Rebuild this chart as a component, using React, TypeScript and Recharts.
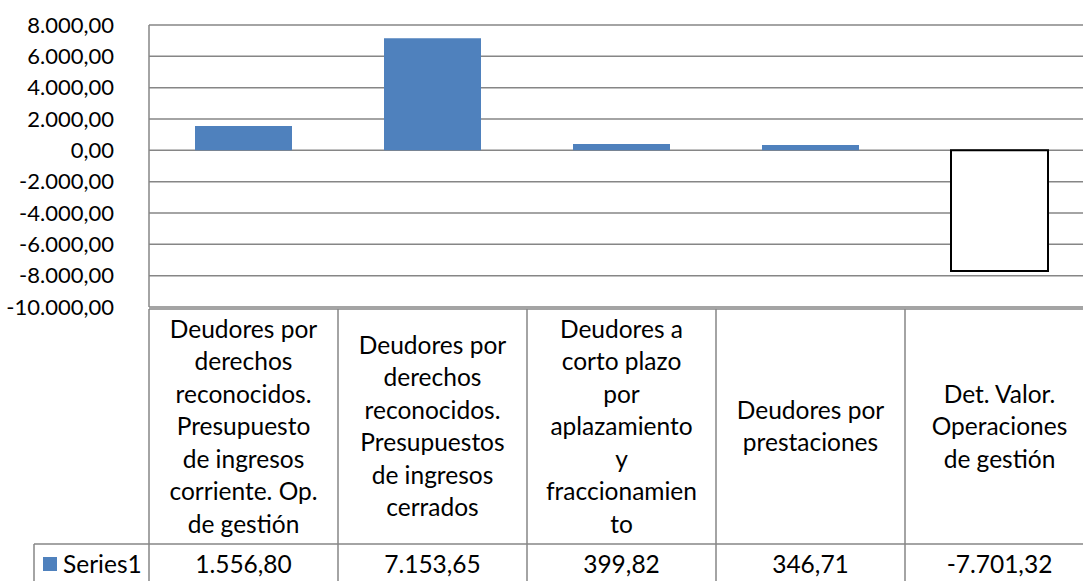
import { BarChart, Bar, XAxis, YAxis, CartesianGrid, Cell } from 'recharts'

const categoryLines = [
  ['Deudores por', 'derechos', 'reconocidos.', 'Presupuesto', 'de ingresos', 'corriente. Op.', 'de gestión'],
  ['Deudores por', 'derechos', 'reconocidos.', 'Presupuestos', 'de ingresos', 'cerrados'],
  ['Deudores a', 'corto plazo', 'por', 'aplazamiento', 'y', 'fraccionamien', 'to'],
  ['Deudores por', 'prestaciones'],
  ['Det. Valor.', 'Operaciones', 'de gestión'],
]
const seriesValues = [1556.8, 7153.65, 399.82, 346.71, -7701.32]
const yTicks = [-10000, -8000, -6000, -4000, -2000, 0, 2000, 4000, 6000, 8000]
const seriesName = 'Series1'

const FONT = 'Lato, "Open Sans", sans-serif'
const FS = 24.5
const TICK_FS = 22
const BLUE = '#4f81bd'
const GRID = '#868686'

const CHART_W = 1100
const CHART_H = 581
const AXIS_W = 149
const TOP = 25
const PLOT_H = 282
const PLOT_W = 945
const BAND = PLOT_W / seriesValues.length

const data = categoryLines.map((lines, i) => ({
  name: lines.join(' '),
  value: seriesValues[i],
}))

function fmt(v: number) {
  const neg = v < 0
  const [int, dec] = Math.abs(v).toFixed(2).split('.')
  const grouped = int.replace(/\B(?=(\d{3})+(?!\d))/g, '.')
  return `${neg ? '-' : ''}${grouped},${dec}`
}

function YTick({ x, y, payload }: any) {
  return (
    <text x={x - 27} y={y} dy="0.35em" textAnchor="end" fontFamily={FONT} fontSize={TICK_FS} fill="#000">
      {fmt(payload.value)}
    </text>
  )
}

function TableTick({ x, y, index }: any) {
  const left = x - BAND / 2
  const right = x + BAND / 2
  const lines = categoryLines[index]
  const tableTop = y + 2
  const rowSplit = y + 237
  const bottom = CHART_H + 5
  const catMid = (tableTop + rowSplit) / 2
  const lh = 32.5
  const start = catMid - ((lines.length - 1) / 2) * lh
  return (
    <g>
      <line x1={left} x2={right} y1={tableTop} y2={tableTop} stroke={GRID} strokeWidth={1.5} />
      <line x1={left} x2={right} y1={rowSplit} y2={rowSplit} stroke={GRID} strokeWidth={1.5} />
      <line x1={right} x2={right} y1={tableTop} y2={bottom} stroke={GRID} strokeWidth={1.5} />
      {index === 0 && (
        <g>
          <line x1={left} x2={left} y1={tableTop} y2={bottom} stroke={GRID} strokeWidth={1.5} />
          <line x1={34} x2={left} y1={rowSplit} y2={rowSplit} stroke={GRID} strokeWidth={1.5} />
          <line x1={34} x2={34} y1={rowSplit} y2={bottom} stroke={GRID} strokeWidth={1.5} />
          <rect x={43} y={rowSplit + 13} width={14} height={14} fill={BLUE} />
          <text x={63} y={rowSplit + 20} dy="0.35em" fontFamily={FONT} fontSize={FS} fill="#000">
            {seriesName}
          </text>
        </g>
      )}
      {lines.map((l, i) => (
        <text
          key={i}
          x={x}
          y={start + i * lh}
          dy="0.35em"
          textAnchor="middle"
          fontFamily={FONT}
          fontSize={FS}
          fill="#000"
        >
          {l}
        </text>
      ))}
      <text x={x} y={rowSplit + 20} dy="0.35em" textAnchor="middle" fontFamily={FONT} fontSize={FS} fill="#000">
        {fmt(seriesValues[index])}
      </text>
    </g>
  )
}

export default function App() {
  return (
    <div
      style={{
        position: 'fixed',
        left: 0,
        top: 0,
        width: 1083,
        height: 581,
        overflow: 'hidden',
        background: '#fff',
      }}
    >
      <BarChart
        width={CHART_W}
        height={CHART_H}
        data={data}
        margin={{ top: TOP, right: CHART_W - AXIS_W - PLOT_W, left: 0, bottom: 0 }}
      >
        <CartesianGrid vertical={false} stroke={GRID} strokeWidth={1.5} />
        <XAxis
          dataKey="name"
          height={CHART_H - TOP - PLOT_H}
          axisLine={false}
          tickLine={false}
          tickSize={0}
          tickMargin={0}
          interval={0}
          tick={<TableTick />}
        />
        <YAxis
          width={AXIS_W}
          domain={[-10000, 8000]}
          ticks={yTicks}
          interval={0}
          axisLine={{ stroke: GRID, strokeWidth: 1.5 }}
          tickLine={false}
          tick={<YTick />}
        />
        <Bar dataKey="value" barSize={97} isAnimationActive={false}>
          {seriesValues.map((v, i) => (
            <Cell
              key={i}
              fill={v < 0 ? '#ffffff' : BLUE}
              stroke={v < 0 ? '#000000' : 'none'}
              strokeWidth={v < 0 ? 2 : 0}
            />
          ))}
        </Bar>
      </BarChart>
    </div>
  )
}
